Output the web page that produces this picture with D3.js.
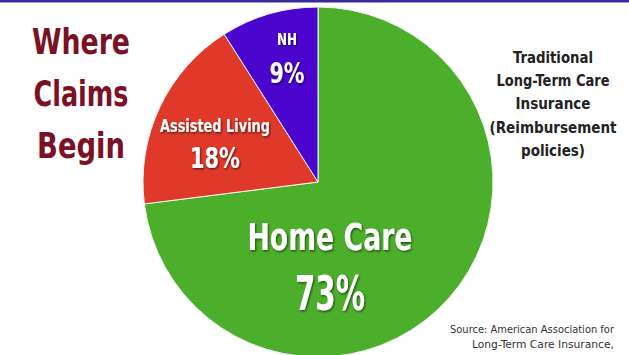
<!DOCTYPE html>
<html><head><meta charset="utf-8">
<script src="https://cdn.jsdelivr.net/npm/d3@7"></script>
<style>
html,body{margin:0;padding:0;background:#fff;}
svg{display:block;}
.cond{font-family:"DejaVu Sans Condensed","DejaVu Sans",sans-serif;font-stretch:condensed;}
</style></head>
<body>
<script>
const categories = ["Home Care", "Assisted Living", "NH"];
const values = [73, 18, 9];
const colors = ["#4caf2b", "#e0392a", "#4b05cf"];
const titleLines = ["Where", "Claims", "Begin"];
const noteLines = ["Traditional", "Long-Term Care", "Insurance", "(Reimbursement", "policies)"];
const sourceLines = ["Source: American Association for", "Long-Term Care Insurance,"];

const W = 629, H = 355;
const svg = d3.select("body").append("svg").attr("width", W).attr("height", H);

const defs = svg.append("defs");
const f = defs.append("filter").attr("id","sh").attr("x","-20%").attr("y","-20%").attr("width","140%").attr("height","140%");
f.append("feDropShadow").attr("dx",1).attr("dy",1.3).attr("stdDeviation",0.9).attr("flood-color","#000").attr("flood-opacity",0.6);

svg.append("rect").attr("x",0).attr("y",0).attr("width",W).attr("height",2.5).attr("fill","#3a2c98");

// fit text horizontally to a target width (condensed look)
function fit(sel, w){ sel.attr("textLength", w).attr("lengthAdjust","spacingAndGlyphs"); }

const cx = 318, cy = 182, R = 175;
const pie = d3.pie().sort(null).value(d => d.v);
const arcs = pie(categories.map((c,i)=>({c, v: values[i], col: colors[i]})));
const arc = d3.arc().innerRadius(0).outerRadius(R);
const g = svg.append("g").attr("transform",`translate(${cx},${cy})`);
g.selectAll("path").data(arcs).join("path")
  .attr("d", arc).attr("fill", d => d.data.col)
  .attr("stroke","#f4f4ee").attr("stroke-width",1);

// label layout (offsets from pie centre) and widths
const labelLayout = {
  "Home Care":       {x: 12,  y1: 68,  s1: 38, w1: 165, y2: 128, s2: 48, w2: 70},
  "Assisted Living": {x: -103,y1: -50, s1: 18, w1: 110, y2: -14, s2: 28, w2: 50},
  "NH":              {x: -31, y1: -137,s1: 16, w1: 20,  y2: -99, s2: 28, w2: 35}
};
arcs.forEach(a => {
  const L = labelLayout[a.data.c];
  g.append("text").attr("class","cond").attr("x",L.x).attr("y",L.y1)
    .attr("text-anchor","middle").attr("font-size",L.s1).attr("font-weight","bold")
    .attr("fill","#fff").attr("filter","url(#sh)").text(a.data.c).call(fit, L.w1);
  g.append("text").attr("class","cond").attr("x",L.x).attr("y",L.y2)
    .attr("text-anchor","middle").attr("font-size",L.s2).attr("font-weight","bold")
    .attr("fill","#fff").attr("filter","url(#sh)").text(a.data.v + "%").call(fit, L.w2);
});

const titleW = [98, 95, 88];
svg.append("g").selectAll("text").data(titleLines).join("text")
  .attr("class","cond").attr("x",81).attr("y",(d,i)=>54+i*52)
  .attr("text-anchor","middle").attr("font-size",35).attr("font-weight","bold")
  .attr("fill","#7a1124").text(d=>d)
  .each(function(d,i){ fit(d3.select(this), titleW[i]); });

const noteW = [80, 113, 75, 127, 64];
svg.append("g").selectAll("text").data(noteLines).join("text")
  .attr("class","cond").attr("x",553).attr("y",(d,i)=>63+i*23.2)
  .attr("text-anchor","middle").attr("font-size",16).attr("font-weight","bold")
  .attr("fill","#222").text(d=>d)
  .each(function(d,i){ fit(d3.select(this), noteW[i]); });

const srcW = [164, 142];
svg.append("g").selectAll("text").data(sourceLines).join("text")
  .attr("class","cond").attr("x",614).attr("y",(d,i)=>333+i*15)
  .attr("text-anchor","end").attr("font-size",10)
  .attr("fill","#333").text(d=>d)
  .each(function(d,i){ fit(d3.select(this), srcW[i]); });
</script>
</body></html>
